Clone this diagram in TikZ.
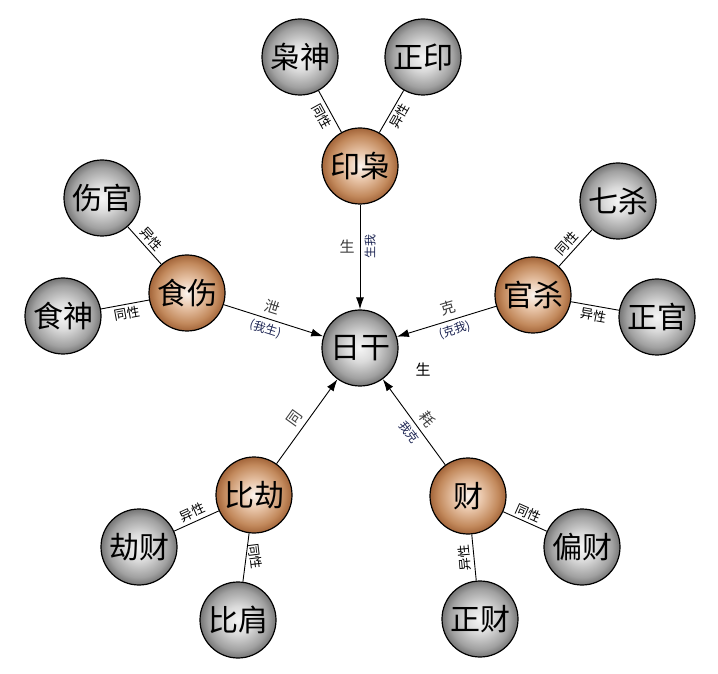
\documentclass[tikz,border=0pt]{standalone}
\usepackage{fontspec}
\setmainfont{Noto Sans CJK SC}
\usetikzlibrary{arrows.meta}
\definecolor{inkgray}{HTML}{3C3C3C}
\definecolor{inkblue}{HTML}{1C2452}
\pgfdeclareradialshading{greyball}{\pgfpoint{0bp}{0bp}}{color(0bp)=(white!96!black); color(9bp)=(white!86!black); color(20bp)=(white!63!black); color(25bp)=(white!46!black); color(50bp)=(white!46!black)}
\definecolor{hubA}{HTML}{FBF4EF}
\definecolor{hubB}{HTML}{E9C6AA}
\definecolor{hubC}{HTML}{C2895C}
\definecolor{hubD}{HTML}{A3653A}
\pgfdeclareradialshading{copperball}{\pgfpoint{0bp}{0bp}}{color(0bp)=(hubA); color(9bp)=(hubB); color(20bp)=(hubC); color(25bp)=(hubD); color(50bp)=(hubD)}

\begin{document}
\begin{tikzpicture}[x=1pt,y=1pt,>={Latex[length=12pt,width=8pt]}]
\tikzstyle{place}=[circle,draw=black,line width=1.2pt,minimum size=76pt,inner sep=0pt,shading=greyball,font=\fontsize{30}{30}\selectfont]
\tikzstyle{hub}=[place,shading=copperball]
\tikzstyle{tag}=[font=\fontsize{13}{13}\selectfont,inner sep=3pt]
\tikzstyle{hand}=[font=\fontsize{15}{15}\selectfont,text=inkgray,inner sep=5pt]
\tikzstyle{ink}=[font=\fontsize{12}{12}\selectfont,text=inkblue,inner sep=4pt]

\useasboundingbox (0,0) rectangle (718,673);

\begin{scope}[line width=0.9pt]
    % Day master and the five groups
    \node [place](rigan) at (360,325) {日干};
    \node [hub](yinxiao) at (360,507) {印枭};
    \node [hub](shishang) at (187,380) {食伤};
    \node [hub](guansha) at (533,378) {官杀};
    \node [hub](bijie) at (254,178) {比劫};
    \node [hub](cai) at (468,177) {财};

    % Ten gods
    \node [place](xiaoshen) at (300,616) {枭神};
    \node [place](zhengyin) at (423,616) {正印};
    \node [place](shangguan) at (102,475) {伤官};
    \node [place](shishen) at (63,357) {食神};
    \node [place](qisha) at (618,472) {七杀};
    \node [place](zhengguan) at (657,356) {正官};
    \node [place](jiecai) at (139,126) {劫财};
    \node [place](bijian) at (238,53) {比肩};
    \node [place](piancai) at (582,126) {偏财};
    \node [place](zhengcai) at (480,54) {正财};

    %Same / different polarity
    \path (yinxiao) edge node [tag,sloped,below] {同性} (xiaoshen);
    \path (yinxiao) edge node [tag,sloped,below] {异性} (zhengyin);
    \path (shishang) edge node [tag,sloped,above] {异性} (shangguan);
    \path (shishen) edge node [tag,sloped,below] {同性} (shishang);
    \path (guansha) edge node [tag,sloped,above,pos=0.45] {同性} (qisha);
    \path (guansha) edge node [tag,sloped,below] {异性} (zhengguan);
    \path (jiecai) edge node [tag,sloped,above] {异性} (bijie);
    \path (bijie) edge node [tag,rotate=-83,anchor=south] {同性} (bijian);
    \path (cai) edge node [tag,sloped,above] {同性} (piancai);
    \path (cai) edge node [tag,rotate=95,anchor=south] {异性} (zhengcai);

    %Towards the day master
    \path[->] (yinxiao) edge node [hand,pos=0.4,anchor=east] {生} node [ink,pos=0.4,rotate=90,anchor=north] {生我} (rigan);
    \path[->] (shishang) edge node [hand,sloped,above,pos=0.45] {泄} node [ink,sloped,below,pos=0.45] {(我生)} (rigan);
    \path[->] (guansha) edge node [hand,sloped,above,pos=0.45] {克} node [ink,sloped,below,pos=0.45] {(克我)} (rigan);
    \path[->] (bijie) edge node [hand,sloped,above,pos=0.45] {同} (rigan);
    \path[->] (cai) edge node [hand,sloped,above,pos=0.45] {耗} node [ink,sloped,below,pos=0.45] {我克} (rigan);

    \node [hand,text=black](sheng) at (423,303) {生};
\end{scope}

\end{tikzpicture}
\end{document}
